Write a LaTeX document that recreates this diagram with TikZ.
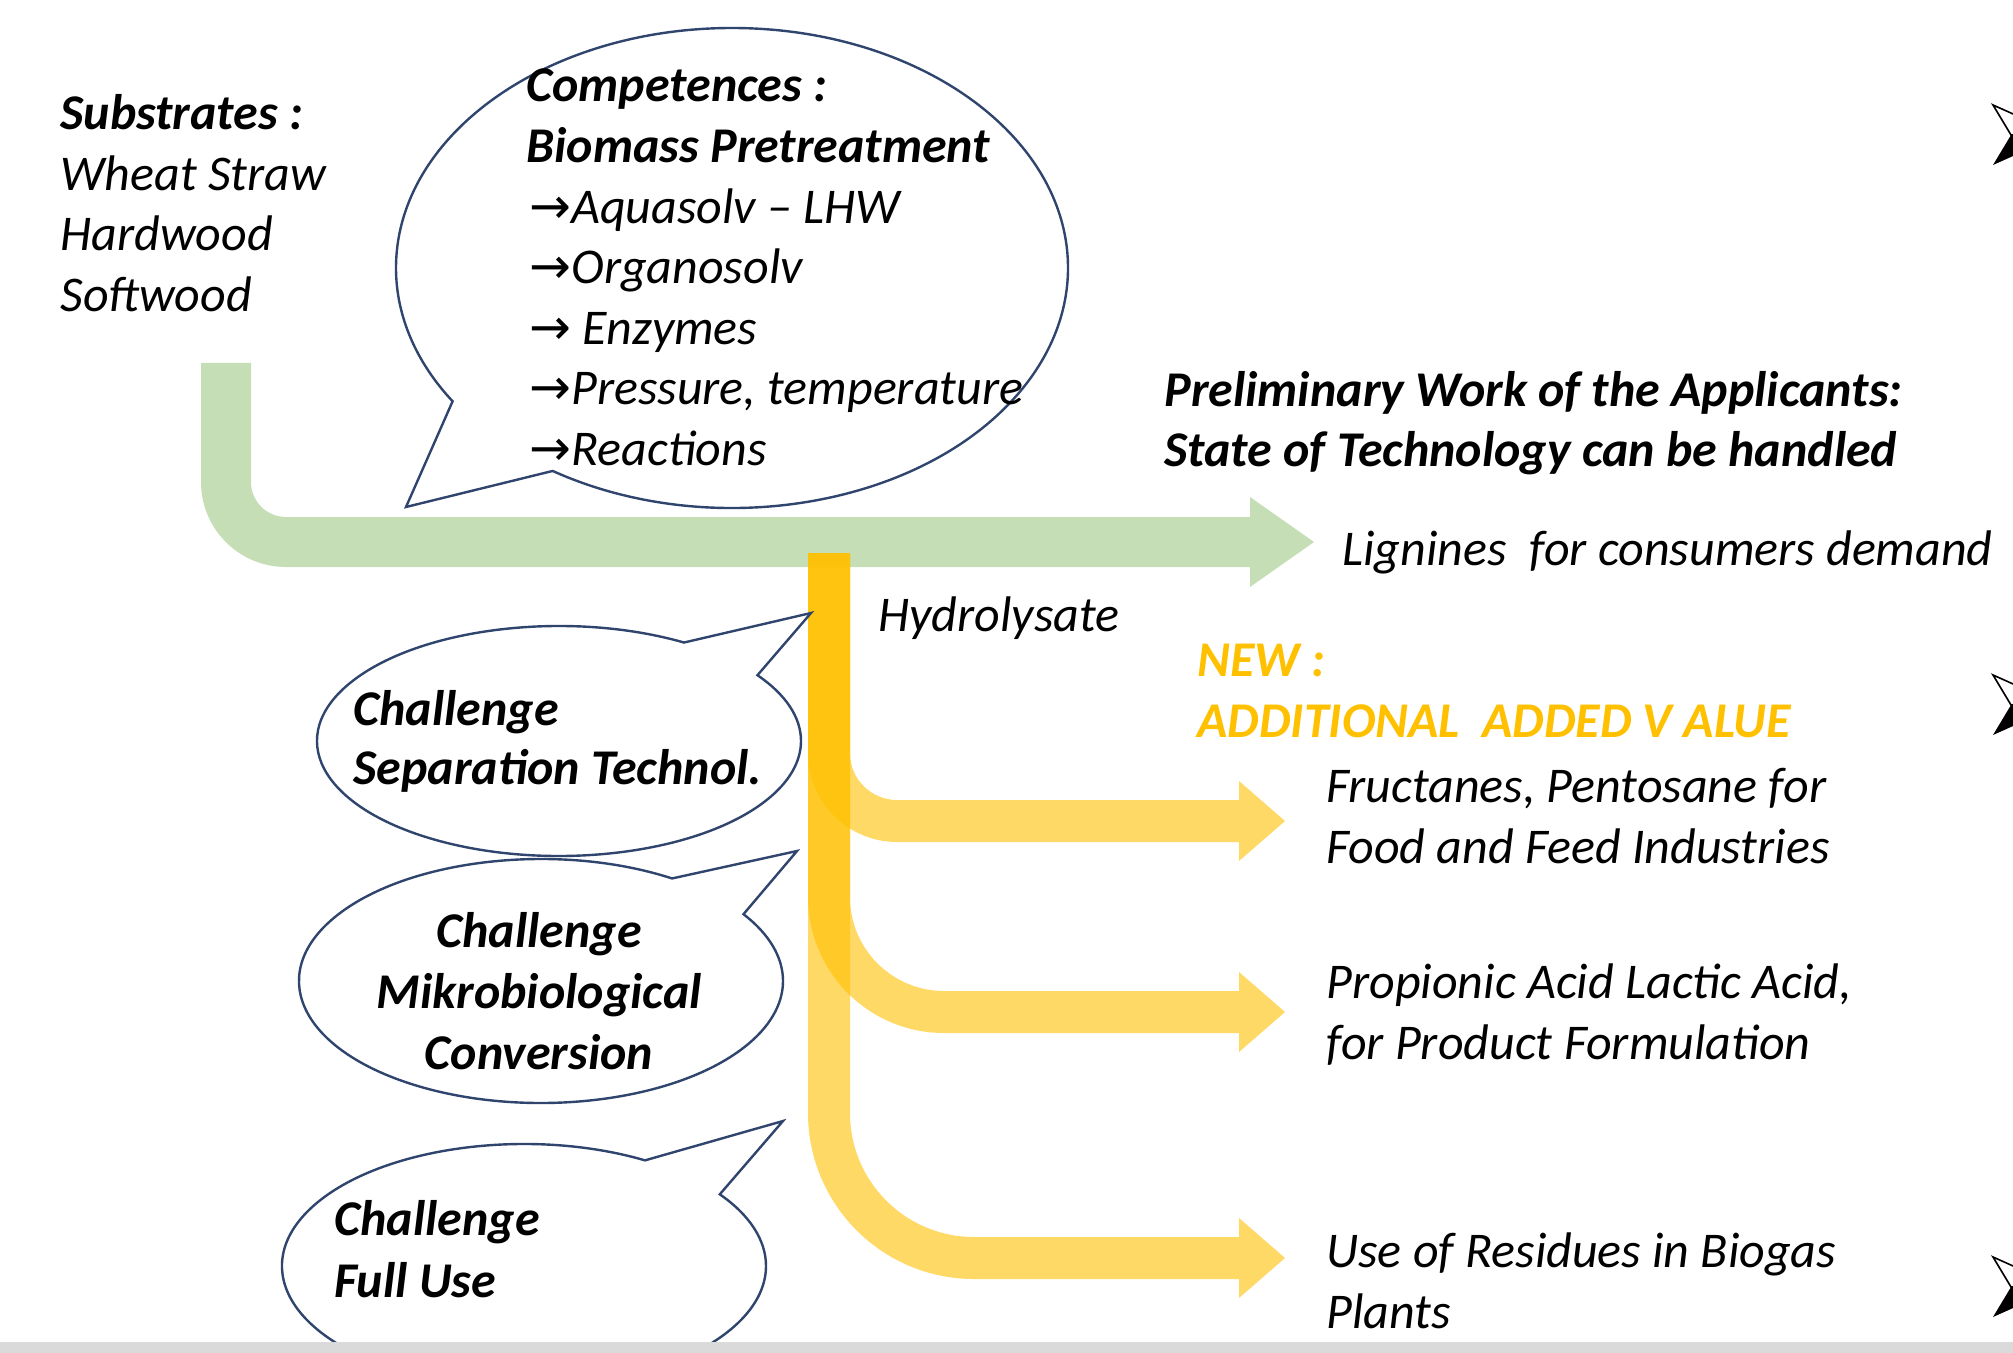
\documentclass[tikz,border=0pt]{standalone}
\usepackage{fontspec}
\setmainfont{Carlito}
\newfontfamily\arrowfont{DejaVu Sans}
\usetikzlibrary{shapes.callouts}

\definecolor{streamgreen}{RGB}{112,173,71}
\definecolor{streamyellow}{RGB}{255,192,0}
\definecolor{bubbleblue}{RGB}{47,69,110}
\definecolor{stripgray}{RGB}{218,218,218}

% #1 fill options, #2 x of the shaft, #3 top of the shaft, #4 y of the outlet,
% #5 bend radius, #6 half width, #7 x of the head base, #8 x of the tip, #9 half height of the head
\newcommand{\bentarrow}[9]{%
    \fill[#1] (#2-#6,#3) -- (#2-#6,#4-#5)
        arc[start angle=180, end angle=90, radius=#5+#6]
        -- (#7,#4+#6) -- (#7,#4+#9) -- (#8,#4) -- (#7,#4-#9) -- (#7,#4-#6)
        -- (#2+#5,#4-#6) arc[start angle=90, end angle=180, radius=#5-#6]
        -- (#2+#6,#3) -- cycle;
}
\newcommand{\toarrow}{{\upshape\arrowfont →}}

\tikzset{
    txt/.style={anchor=mid west, inner sep=0pt, font=\fontsize{25}{30}\selectfont\itshape},
    txtb/.style={txt, font=\fontsize{25}{30}\selectfont\bfseries\itshape},
    bubble/.style={ellipse callout, draw=bubbleblue, line width=1.2pt, inner sep=0pt,
        callout pointer arc=24}
}

\begin{document}
\begin{tikzpicture}[x=0.5pt,y=-0.5pt]
    \useasboundingbox (0,0) rectangle (2013,1353);
    \fill[white] (0,0) rectangle (2013,1353);

    % Main stream to the lignin outlet
    \bentarrow{streamgreen,opacity=0.4}{226}{363}{542}{60}{25}{1250}{1314}{45}
    % Hydrolysate branches
    \foreach \yout/\r in {821/68, 1012/115, 1258/145}{
        \bentarrow{streamyellow,opacity=0.6}{829}{553}{\yout}{\r}{21}{1239}{1285}{40}
    }

    % Speech bubbles
    \node[bubble, minimum width=336pt, minimum height=240pt,
        callout absolute pointer={(406,507)}] (competences) at (732,268) {};
    \node[bubble, minimum width=242pt, minimum height=115pt,
        callout absolute pointer={(811,613)}] (separation) at (559,741) {};
    \node[bubble, minimum width=242pt, minimum height=122pt,
        callout absolute pointer={(797,851)}] (conversion) at (541,981) {};
    \node[bubble, minimum width=242pt, minimum height=122pt,
        callout absolute pointer={(783,1121)}] (fulluse) at (524,1266) {};

    % Substrates
    \node[txtb] (substrates) at (60,125) {Substrates :};
    \foreach \t [count=\i] in {Wheat Straw, Hardwood, Softwood}
        \node[txt] (substrate-\i) at (60,125+60.5*\i) {\t};

    % Competences
    \node[txtb] (comp-title) at (526,97) {Competences :};
    \node[txtb] (comp-field) at (526,158) {Biomass Pretreatment};
    \foreach \t [count=\i] in {Aquasolv – LHW, Organosolv, {\ Enzymes}, {Pressure, temperature}, Reactions}
        \node[txt] (comp-\i) at (529,158+60.5*\i) {\toarrow\t};

    % Preliminary work and lignin outlet
    \node[txtb] (prelim) at (1164,402) {Preliminary Work of the Applicants:};
    \node[txtb] (state) at (1164,462) {State of Technology can be handled};
    \node[txt] (lignines) at (1342,561) {Lignines~ for consumers demand};
    \node[txt] (hydrolysate) at (878,627) {Hydrolysate};

    % New added value
    \node[txtb, text=streamyellow] (new) at (1197,672) {NEW :};
    \node[txtb, text=streamyellow] (added) at (1197,733) {ADDITIONAL~ ADDED V ALUE};
    \node[txt] (fruct-1) at (1326,798) {Fructanes, Pentosane for};
    \node[txt] (fruct-2) at (1326,859) {Food and Feed Industries};
    \node[txt] (acid-1) at (1326,994) {Propionic Acid Lactic Acid,};
    \node[txt] (acid-2) at (1326,1055) {for Product Formulation};
    \node[txt] (biogas-1) at (1326,1263) {Use of Residues in Biogas};
    \node[txt] (biogas-2) at (1326,1324) {Plants};

    % Challenges
    \node[txtb] (sep-1) at (353,721) {Challenge};
    \node[txtb] (sep-2) at (353,780) {Separation Technol.};
    \foreach \t [count=\i from 0] in {Challenge, Mikrobiological, Conversion}
        \node[txtb, anchor=mid] (conv-\i) at (539,943+61*\i) {\t};
    \node[txtb] (full-1) at (334,1231) {Challenge};
    \node[txtb] (full-2) at (334,1293) {Full Use};

    % Bullets at the right edge
    \foreach \yb in {135,705,1287}{
        \filldraw[fill=white, draw=black, line width=0.8pt] (1993,\yb-30) -- (2060,\yb) -- (2011,\yb) -- cycle;
        \fill[black] (2011,\yb) -- (2060,\yb) -- (1993,\yb+30) -- cycle;
    }

    % Bottom strip
    \fill[stripgray] (0,1342) rectangle (2013,1353);
\end{tikzpicture}
\end{document}
